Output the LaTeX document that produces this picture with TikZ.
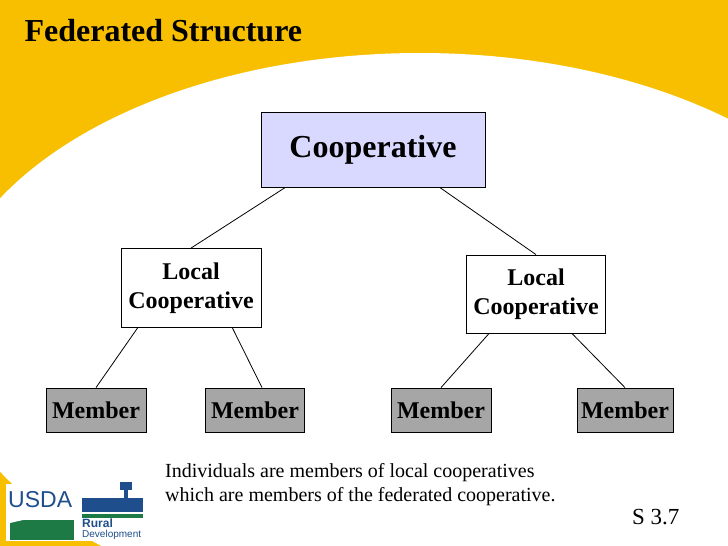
\documentclass[tikz,border=0pt]{standalone}
\usepackage{fontspec}
\setmainfont{Liberation Serif}
\setsansfont{Liberation Sans}
\definecolor{bgy}{HTML}{F8BF00}
\definecolor{lav}{HTML}{D9D9FF}
\definecolor{mgray}{HTML}{A6A6A6}
\definecolor{usblue}{HTML}{1F4E8C}
\definecolor{usgreen}{HTML}{1E7A45}
\begin{document}
\begin{tikzpicture}[x=1pt,y=-1pt,
  box/.style={draw=black,line width=0.8pt,font=\bfseries\fontsize{24}{29}\selectfont,align=center,inner sep=0pt},
  mem/.style={box,fill=mgray,minimum width=100pt,minimum height=44pt},
  link/.style={draw=black,line width=0.8pt}]
\useasboundingbox (0,0) rectangle (728,546);
\fill[bgy] (0,0) rectangle (728,546);
\begin{scope}
\clip (0,0) rectangle (728,546);
\fill[white] (420,335) ellipse (480 and 282);
\end{scope}
\node[anchor=west,font=\bfseries\fontsize{32}{36}\selectfont] (title) at (21,31) {Federated Structure};
\node[box,fill=lav,minimum width=224pt,minimum height=75pt,font=\bfseries\fontsize{32}{36}\selectfont] (coop) at (373,150) {Cooperative};
\node[box,fill=white,minimum width=140pt,minimum height=79pt] (l1) at (191,288) {Local\\Cooperative};
\node[box,fill=white,minimum width=139pt,minimum height=78pt] (l2) at (536,294) {Local\\Cooperative};
\node[mem] (m1) at (96,410) {Member};
\node[mem,minimum width=99pt] (m2) at (255,410) {Member};
\node[mem] (m3) at (441,410) {Member};
\node[mem,minimum width=96pt] (m4) at (625,410) {Member};
\draw[link] ([xshift=24pt]coop.south west) -- (l1.north);
\draw[link] ([xshift=-45pt]coop.south east) -- (l2.north);
\draw[link] ([xshift=17pt]l1.south west) -- (m1.north);
\draw[link] ([xshift=-29pt]l1.south east) -- ([xshift=7pt]m2.north);
\draw[link] ([xshift=23pt]l2.south west) -- (m3.north);
\draw[link] ([xshift=-34pt]l2.south east) -- (m4.north);
\node[anchor=north west,align=left,font=\fontsize{20}{24.5}\selectfont,inner sep=0pt] (note) at (165,463) {Individuals are members of local cooperatives\\which are members of the federated cooperative.};
\node[anchor=west,font=\fontsize{23}{26}\selectfont,inner sep=0pt] (slide) at (632,517) {S 3.7};
% logo
\fill[white] (6,484) rectangle (148,541);
\node[anchor=west,font=\sffamily\fontsize{23}{25}\selectfont,text=usblue,inner sep=0pt] (usda) at (8,500) {USDA};
\fill[usgreen] (10,520) rectangle (74,540);
\fill[white] (10,519) .. controls (40,512) .. (74,516) -- (74,520) .. controls (40,516) .. (10,523) -- cycle;
\fill[usblue] (82,498) rectangle (143,512);
\fill[usblue] (124,484) rectangle (128,498);
\fill[usblue] (120,482) rectangle (132,490);
\fill[usgreen] (82,514) rectangle (143,518);
\node[anchor=north west,align=left,font=\sffamily\bfseries\fontsize{12}{12}\selectfont,text=usblue,inner sep=0pt] (rural) at (82,519) {Rural};
\node[anchor=north west,font=\sffamily\fontsize{10}{10}\selectfont,text=usblue,inner sep=0pt] (dev) at (82,530) {Development};
\end{tikzpicture}
\end{document}
